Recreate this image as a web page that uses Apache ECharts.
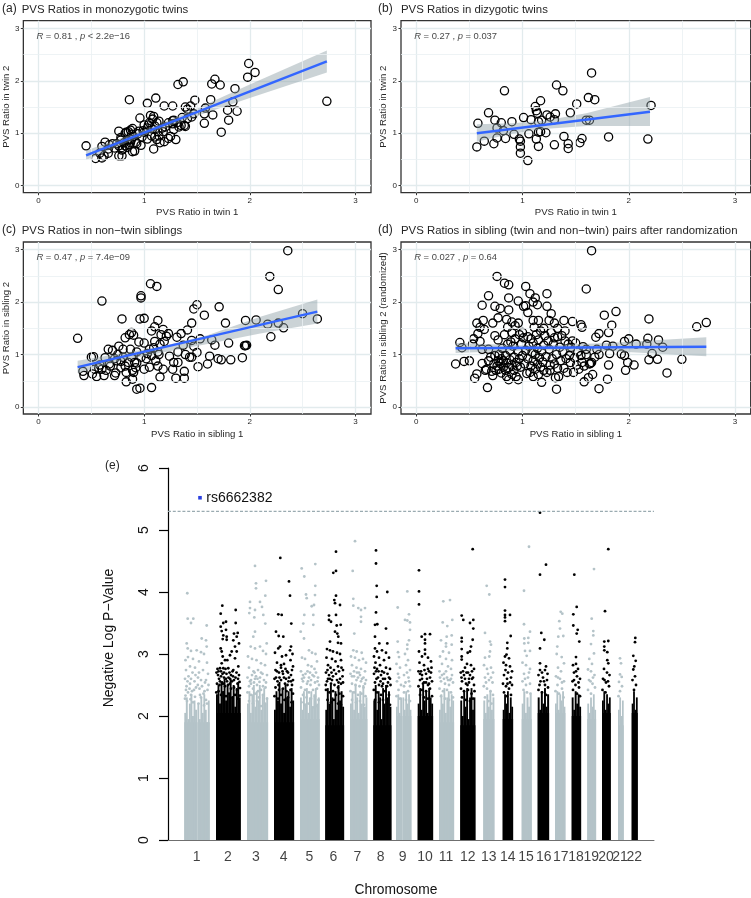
<!DOCTYPE html>
<html><head><meta charset="utf-8">
<style>html,body{margin:0;padding:0;background:#fff}#c{width:751px;height:898px}</style>
<script src="https://cdn.jsdelivr.net/npm/echarts@6/dist/echarts.min.js"></script>
</head><body><div id="c"></div>
<script>
const aPoints=[[.45,.76],[.54,.52],[.60,.53],[.58,.62],[.62,.57],[.60,.75],[.63,.83],[.66,.62],[.67,.78],[.70,.80],[.76,.57],[.79,.57],[.76,1.04],[.78,.87],[.76,.76],[.80,.70],[.81,.82],[.83,1.02],[.85,1.03],[.87,1.06],[.89,1.09],[.84,.73],[.86,.78],[.89,.65],[.91,.66],[.92,.83],[.88,.88],[.86,1.64],[.97,.77],[.96,1.29],[1.00,1.16],[.95,1.04],[1.03,.89],[1.03,1.57],[1.06,1.34],[1.09,1.32],[1.11,1.67],[1.09,.70],[1.05,1.2],[1.08,1.08],[1.10,.93],[1.12,.88],[1.13,1.03],[1.14,1.23],[1.15,.82],[1.18,1.03],[1.19,.84],[1.19,1.52],[1.23,.90],[1.25,.94],[1.27,1.24],[1.28,1.25],[1.28,1.07],[1.27,1.52],[1.30,.88],[1.32,1.93],[1.37,1.98],[1.35,1.15],[1.38,1.15],[1.39,1.13],[1.39,1.50],[1.41,1.46],[1.44,1.52],[1.45,1.31],[1.47,1.37],[1.48,1.63],[1.57,1.19],[1.57,1.37],[1.58,1.48],[1.63,1.64],[1.64,1.94],[1.65,1.35],[1.67,2.03],[1.72,1.92],[1.73,1.02],[1.79,1.44],[1.80,1.25],[1.84,1.60],[1.86,1.85],[1.88,1.42],[1.98,2.07],[1.99,2.33],[2.05,2.16],[2.73,1.61],[.66,.7],[.72,.72],[.74,.8],[.79,.68],[.82,.76],[.84,.87],[.87,.82],[.88,.98],[.9,.94],[.93,.8],[.94,.99],[.99,1.05],[1.0,1.02],[1.03,1.1],[1.04,1.16],[1.07,.95],[1.08,1.27],[1.1,1.14],[1.12,1.2],[1.14,.95],[1.17,1.1],[1.2,1.12],[1.23,1.2],[1.27,1.18],[1.31,1.2],[1.33,1.12],[1.36,1.3],[1.41,1.28],[.98,.93],[.78,.92],[.82,1.0]];
const aLine=[[.45,.58],[2.73,2.37]];
const aBandX=[.45,.8,1.1,1.5,2,2.73],aBandLo=[.49,.79,1.04,1.33,1.67,2.16],aBandHi=[.67,.92,1.14,1.47,1.93,2.58];

const bPoints=[[.57,.74],[.58,1.19],[.64,.85],[.68,1.39],[.73,.80],[.74,1.25],[.76,.91],[.76,1.10],[.80,1.20],[.82,1.05],[.83,1.81],[.84,.90],[.90,1.22],[.92,.98],[.97,.89],[.98,.62],[.98,.74],[.98,.85],[1.01,1.30],[1.05,.48],[1.06,.99],[1.08,1.26],[1.12,1.51],[1.13,.89],[1.13,1.43],[1.14,1.38],[1.15,.75],[1.15,1.22],[1.15,1.02],[1.17,1.03],[1.17,1.62],[1.18,1.25],[1.22,1.01],[1.23,1.35],[1.26,1.31],[1.30,.78],[1.30,1.26],[1.31,1.37],[1.32,1.92],[1.38,1.81],[1.39,.94],[1.43,.80],[1.43,.71],[1.45,1.39],[1.51,1.56],[1.54,.82],[1.56,.90],[1.60,1.25],[1.62,1.68],[1.63,1.25],[1.65,2.15],[1.68,1.64],[1.81,.93],[2.18,.89],[2.21,1.53]];
const bLine=[[.57,1.0],[2.2,1.41]];
const bBandX=[.57,.9,1.2,1.6,2.2],bBandLo=[.84,.99,1.08,1.14,1.14],bBandHi=[1.17,1.19,1.24,1.38,1.69];

const cPoints=[[.37,1.31],[.42,.68],[.43,.60],[.50,.95],[.52,.96],[.51,.63],[.55,.58],[.57,.75],[.60,.72],[.60,2.02],[.62,.60],[.63,.94],[.66,1.10],[.68,.78],[.70,1.08],[.72,.60],[.73,.65],[.75,1.00],[.76,1.16],[.78,.75],[.79,1.68],[.80,1.10],[.83,.48],[.83,.66],[.82,1.32],[.85,.85],[.86,1.38],[.88,1.42],[.89,.70],[.90,.66],[.89,.53],[.90,1.37],[.93,.84],[.95,1.24],[.93,.34],[.96,.36],[.96,1.68],[.97,2.12],[.97,2.08],[1.00,1.69],[1.00,.72],[1.00,1.22],[1.02,.92],[1.05,.76],[1.05,1.1],[1.06,2.35],[1.07,.37],[1.07,1.45],[1.10,1.25],[1.10,1.53],[1.12,2.30],[1.13,1.65],[1.13,.78],[1.15,.57],[1.14,1.0],[1.18,1.48],[1.19,1.25],[1.18,.72],[1.23,1.40],[1.24,.97],[1.27,.72],[1.28,.85],[1.32,1.05],[1.32,.85],[1.30,.55],[1.31,1.33],[1.35,1.40],[1.37,1.18],[1.38,.68],[1.38,.55],[1.39,1.00],[1.41,1.47],[1.43,.95],[1.45,.95],[1.45,1.60],[1.45,1.27],[1.47,1.16],[1.47,1.87],[1.50,1.95],[1.50,1.04],[1.51,.77],[1.53,1.30],[1.57,1.75],[1.60,.82],[1.62,.97],[1.64,1.28],[1.67,1.18],[1.70,.92],[1.71,1.91],[1.73,.90],[1.77,1.60],[1.80,1.22],[1.82,.90],[1.93,.94],[1.95,1.17],[1.97,1.18],[1.96,1.17],[1.96,1.65],[2.06,1.66],[2.17,1.58],[2.19,2.49],[2.20,1.34],[2.27,2.24],[2.27,1.60],[2.32,1.51],[2.36,2.98],[2.50,1.78],[2.64,1.68],[.53,.72],[.58,.8],[.64,.7],[.67,.82],[.74,.88],[.8,.95],[.82,.78],[.88,.95],[.91,.85],[.93,1.05],[.97,.95],[1.03,1.02],[1.07,.98],[1.09,1.13],[1.11,.88],[1.13,1.05],[1.15,1.2],[.87,1.1],[.92,.75],[.72,.92],[.78,.87],[1.21,1.35],[1.16,1.38]];
const cLine=[[.37,.76],[2.64,1.82]];
const cBandX=[.37,.8,1.15,1.6,2.1,2.64],cBandLo=[.65,.89,1.03,1.2,1.4,1.59],cBandHi=[.88,1.03,1.15,1.37,1.72,2.05];

const dPoints=[[1.65,2.98],[.76,2.49],[.83,2.36],[.87,2.33],[1.03,2.30],[1.60,2.25],[1.07,2.16],[.68,2.12],[1.23,2.16],[.87,2.08],[.96,2.02],[1.12,2.08],[1.10,2.0],[1.14,1.95],[.62,1.94],[.74,1.92],[.79,1.88],[.87,1.85],[1.03,1.93],[1.01,1.92],[1.05,1.80],[1.23,1.92],[1.27,1.78],[1.77,1.75],[1.88,1.82],[2.19,1.68],[2.64,1.53],[2.73,1.61],[1.84,1.56],[1.81,1.42],[1.72,1.40],[1.69,1.33],[.63,1.65],[.57,1.60],[.72,1.60],[.77,1.70],[.85,1.67],[.90,1.62],[.96,1.60],[.93,1.55],[1.10,1.65],[1.15,1.65],[1.2,1.5],[1.25,1.65],[1.30,1.60],[1.33,1.50],[1.39,1.65],[1.47,1.63],[1.55,1.57],[1.56,1.52],[1.4,1.45],[2.18,1.31],[2.28,1.28],[2.0,1.30],[1.96,1.25],[2.07,1.20],[2.17,1.20],[2.32,1.14],[1.79,1.18],[1.85,1.16],[1.93,1.01],[1.96,.98],[2.22,1.02],[1.99,.85],[2.05,.80],[1.97,.70],[2.19,.90],[2.27,.91],[2.50,.91],[2.36,.65],[1.82,1.02],[1.81,.80],[1.80,.53],[1.72,.35],[1.32,.34],[.67,.37],[1.58,.48],[1.66,.62],[1.64,.83],[1.63,.82],[1.72,1.0],[1.6,1.0],[.37,.82],[.45,.87],[.5,.88],[.41,1.23],[.43,1.13],[.53,1.2],[.54,1.3],[.55,.55],[.57,.63],[.62,.83],[.60,1.25],[.58,1.4],[.60,1.52],[.64,1.48],[.62,1.1],[.65,.7],[.68,1.1],[.72,.6],[.75,.7],[.74,1.36],[.77,1.28],
[.66,.72],[.68,.88],[.70,.95],[.71,.68],[.73,.82],[.74,.98],[.76,.78],[.77,.88],[.78,.72],[.78,1.0],[.79,.83],[.80,.65],[.80,.92],[.81,1.12],[.82,.76],[.82,.88],[.83,1.38],[.84,.7],[.84,.98],[.85,.58],[.85,.84],[.86,1.52],[.86,1.2],[.87,.52],[.87,.75],[.88,.9],[.88,1.08],[.89,1.24],[.9,.62],[.9,.8],[.9,1.42],[.91,1.16],[.92,.7],[.92,.95],[.93,1.3],[.94,.58],[.94,.85],[.95,.78],[.96,.52],[.96,1.05],[.97,.92],[.97,1.38],[.98,.76],[.99,1.2],[1.0,1.42],[1.0,.98],[1.01,1.32],[1.02,.82],[1.03,1.08],[1.04,.64],[1.05,1.34],[1.05,.92],[1.06,1.16],[1.07,.66],[1.08,.78],[1.08,1.3],[1.09,1.04],[1.1,.58],[1.1,.88],[1.1,1.22],[1.11,1.52],[1.12,.72],[1.12,1.0],[1.13,1.38],[1.14,.82],[1.14,1.12],[1.15,.62],[1.15,1.28],[1.16,.94],[1.17,.76],[1.17,1.45],[1.18,1.06],[1.18,.47],[1.19,.86],[1.2,1.18],[1.2,.7],[1.21,1.36],[1.22,.96],[1.23,.66],[1.24,1.26],[1.25,1.1],[1.26,.8],[1.26,.7],[1.27,1.42],[1.28,.92],[1.29,1.2],[1.3,.82],[1.3,1.32],[1.31,.56],[1.32,1.0],[1.33,1.34],[1.33,.74],[1.34,.58],[1.35,1.14],[1.36,.88],[1.37,1.36],[1.38,1.05],[1.39,.74],[1.4,1.26],[1.41,.92],[1.42,.66],[1.43,1.2],[1.44,.98],[1.45,.85],[1.46,1.14],[1.47,1.26],[1.48,.66],[1.49,.94],[1.5,1.22],[1.51,.8],[1.52,1.05],[1.53,.72],[1.55,.98],[1.56,.85],[1.57,1.15],[1.58,.78],[1.6,1.1],[1.62,.56],[1.65,.85],[1.68,.95],[1.7,1.1]];
const dLine=[[.37,1.12],[2.73,1.15]];
const dBandX=[.37,1.1,1.8,2.73],dBandLo=[1.03,1.08,1.07,.97],dBandHi=[1.22,1.17,1.22,1.33];

const chromLabels=['1','2','3','4','5','6','7','8','9','10','11','12','13','14','15','16','17','18','19','20','21','22'];
const chromLabelPos=[28.7,60,88,115.7,141.3,165.3,189.3,212.7,234.7,257,278,299.7,320.7,339.7,358,375.7,392.7,408,423.3,438,452,466.3];
const segStart=[16.3,29.4,48,79,106,132,157.3,182,205.3,228,234.4,249.7,271,292.3,315.3,334.7,353.7,369.7,387,403.7,419.3,434,450,463.7];
const segEnd=[28.6,41.3,72.3,99.7,125.7,151.3,175.7,199,223,233.6,243,264.7,285.7,307,326,344.7,363.3,380.7,397,412.7,427.7,442.3,455.3,469.3];
const segDark=[0,0,1,0,1,0,1,0,1,0,0,1,0,1,0,1,0,1,0,1,0,1,0,1];
const segSolid=[1.9,1.9,2.05,1.9,1.9,1.95,1.85,1.95,1.85,2.0,2.0,2.0,1.9,1.85,1.95,1.95,1.95,2.05,2.05,2.0,1.95,2.05,1.85,2.05];
const segTops=[
[2.05,2.3,1.95,2.2,2.35,2.0,2.25,2.1],[2.2,1.95,2.3,2.05,2.35,2.1,1.9,2.25],
[2.35,2.5,2.2,2.55,2.4,2.6,2.25,2.5,2.35,2.6,2.3,2.5,2.15,2.45,2.55,2.3],
[2.2,2.4,2.05,2.35,2.5,2.15,2.4,2.25,2.5,2.1,2.35,2.45,2.2,2.3],
[2.1,2.4,2.25,2.55,2.2,2.45,2.05,2.5,2.3,2.4,2.15,2.45,2.25],
[2.3,2.1,2.4,2.2,2.45,2.05,2.3,2.4,2.15,2.35,2.45,2.2,2.3],
[2.1,2.45,2.2,2.5,2.3,1.95,2.4,2.1,2.5,2.25,2.4,2.15],
[2.2,2.4,2.1,2.5,2.3,2.05,2.4,2.2,2.5,2.15,2.3],
[2.25,2.5,2.1,2.4,2.3,1.95,2.45,2.2,2.5,2.3,2.4,2.15],
[2.15,2.35,2.05,2.3],[2.3,2.1,2.4,2.2,2.35,2.1],
[2.2,2.45,2.1,2.5,2.25,2.4,2.05,2.45,2.3,2.2],
[2.1,2.35,2.2,2.45,2.05,2.3,2.4,2.15,2.35,2.25],
[2.25,2.0,2.4,2.15,2.45,1.95,2.3,2.45,2.1,2.3],
[2.25,2.05,2.35,2.15,2.4,2.1,2.3],
[2.1,2.35,2.2,2.4,2.05,2.3,2.15],
[2.2,2.4,2.05,2.3,2.15,2.35],
[2.3,2.1,2.4,2.2,2.45,2.15,2.35],
[2.2,2.4,2.1,2.35,2.25,2.4,2.15],
[2.3,2.1,2.4,2.2,2.35,2.15],
[2.2,2.05,2.3,2.15,2.35,2.1],
[2.25,2.4,2.1,2.35,2.2,2.3],
[2.1,2.3,2.0,2.25],
[2.2,2.4,2.1,2.3]];
const genomeWideLevel=5.3;
const topHit=[32,5.52];

const chr1Dots=[19.3,3.98,19.7,3.57,25.3,3.57,23,3.5,38.7,3.46,33.7,3.25,38,3.22,18.7,3.17,19.7,3.09,28.7,3.06,38.7,3.12,23,3.05,33,3.03,36,3.0,20,2.95,25,2.92,17.5,2.9,31,2.88,39,2.86,22,2.8,27,2.78,18,2.74,35,2.74,24.5,2.7,40,2.68,20.5,2.64,30,2.62,17,2.6,33,2.58,26.5,2.56,37,2.54,22,2.52,18.5,2.48,28,2.46,31.5,2.44,39.5,2.42,24,2.4,20,2.38,35.5,2.36,17.5,2.33,27,2.31,33,2.3,22.5,2.27,38,2.26,19,2.24,25,2.22,30.5,2.2,36,2.17,23,2.34,26,2.42,19.5,2.56,21.5,2.44,34,2.48,36.5,2.4,32,2.34,39,2.2,17,2.28,29.8,2.5,23,2.6,27.5,2.66,31,2.7,38,2.58,18,2.42,40.5,2.5];
const chr2Dots=[54.3,3.78,52.7,3.65,67.7,3.71,58,3.52,55.3,3.5,67.7,3.5,52.7,3.44,53.7,3.37,58,3.39,66,3.33,69.7,3.34,55.3,3.3,58.7,3.28,54.7,3.24,58.7,3.23,68.7,3.28,65.3,3.22,71,3.17,52.7,3.09,67,3.12,53.7,3.04,63.7,3.04,68.7,3.04,62,2.98,54.7,2.96,67,2.93,57,2.9,59.3,2.9,53.7,2.85,70.3,2.8,52,2.77,55.3,2.77,60.3,2.77,65.3,2.74,48.5,2.7,50,2.66,53,2.64,56,2.62,58.5,2.68,62,2.6,64,2.56,67.5,2.62,70,2.6,71.5,2.55,49,2.52,51.5,2.5,54,2.54,57,2.48,60,2.5,63,2.44,66,2.46,69,2.42,72,2.45,48.3,2.38,50.5,2.4,53,2.34,55.5,2.38,58,2.32,61,2.36,64.5,2.3,67,2.34,70,2.28,71.8,2.33,53,2.72,59,2.56,65,2.64,56,2.7,61.5,2.7,51,2.6,68.5,2.7,49.5,2.76,63,2.66,50.5,2.72,54.5,2.68,57.5,2.76,60.5,2.62,64.5,2.72,66,2.58,69.5,2.52,71,2.66,52,2.56,55,2.52,58,2.6,62,2.52];
const chr3Dots=[87,4.42,88,4.14,88,4.06,98,4.18,97.3,3.94,82,3.84,94,3.76,82,3.74,92,3.84,87,3.71,81.3,3.66,86.3,3.59,95.3,3.63,97.3,3.49,87,3.36,85.3,3.28,98.7,3.17,82.7,3.12,87,3.09,92,3.12,95,3.05,98,3.0,80,2.96,84,2.92,88.5,2.9,93,2.85,97,2.82,81,2.78,85.5,2.72,90,2.74,94.5,2.68,99,2.66,79.5,2.62,83,2.58,87,2.6,91.5,2.55,96,2.58,81,2.48,85,2.44,89,2.5,93,2.42,97.5,2.46,79.5,2.38,83,2.34,87,2.36,91,2.3,95,2.34,99,2.28,81,2.24,85,2.2,89,2.24,93,2.16,97,2.2,83,2.52,88,2.64,92,2.62,86,2.54,95,2.48,90,2.4,84,2.66,89.5,2.6,82,2.56,98,2.54,93,2.7,86.5,2.7];
const chr4Dots=[112.3,4.55,121,4.17,122,3.94,110.3,3.64,113.7,3.63,123.3,3.49,108,3.36,110.7,3.29,115.3,3.28,110.3,3.09,123,3.12,122,3.06,112,3.12,124.5,3.0,107,3.02,114,2.96,118,2.98,122.5,2.9,109,2.86,113,2.82,116,2.84,125,2.8,107.5,2.74,111,2.7,115,2.68,119,2.72,123,2.66,106.5,2.6,109.5,2.56,113,2.58,117,2.52,120.5,2.56,124,2.5,107.5,2.46,111,2.42,115,2.44,118.5,2.4,122.5,2.42,125,2.36,106.5,2.32,110,2.28,113,2.34,116.5,2.26,120,2.3,123.5,2.22,108,2.62,111.5,2.62,121,2.62,114.5,2.72,118,2.6,125,2.58,109,2.72,113,2.78,117.5,2.76,120,2.7,124,2.74,110.5,2.5,116,2.62,119.5,2.5,123,2.56];
const chr5Dots=[133.7,4.38,147.3,4.45,136.3,4.25,147.3,4.1,138,3.96,138.7,3.9,147,3.95,143.7,3.77,146,3.79,136.3,3.63,145.3,3.63,135.3,3.49,145.3,3.47,132.7,3.36,136,3.25,141,3.06,144,3.02,147.5,3.0,134,2.94,137,2.92,149,2.88,140,2.82,143.5,2.8,146.5,2.76,133,2.72,137.5,2.68,141,2.62,144.5,2.66,150,2.62,135,2.56,139,2.52,142.5,2.5,147,2.54,133,2.46,137,2.42,141,2.38,145,2.42,149,2.44,135,2.34,138.5,2.3,143,2.28,147,2.32,150.5,2.26,133.5,2.22,137,2.18,140.5,2.2,145,2.14,149,2.16,136,2.62,139.5,2.72,148,2.7,134,2.6,151,2.5,143,2.58,135,2.66,142,2.7,146,2.64,140,2.56,149.5,2.56];
const chr6Dots=[168,4.65,168,4.34,165.3,4.31,168,3.94,166.3,3.87,167,3.82,172,3.79,161,3.62,168,3.63,161,3.55,163,3.52,168.7,3.46,167,3.36,169.3,3.33,172.7,3.47,170.3,3.28,162,3.2,170,3.18,173,3.17,159,3.08,162,3.06,165,3.04,169,3.02,172,3.0,158.5,2.94,164,2.92,167.5,2.88,173,2.9,160,2.82,162.5,2.78,170,2.8,175,2.74,158,2.7,161,2.66,165,2.64,168,2.68,172,2.6,174.5,2.64,159,2.56,163,2.52,166.5,2.5,170,2.46,173,2.52,158,2.42,161.5,2.38,165,2.4,168,2.34,171.5,2.36,175,2.32,159.5,2.26,163,2.22,166,2.26,170,2.2,173,2.18,160,2.6,169,2.58,175,2.54,163.5,2.7,157.8,2.5,159.5,2.74,166,2.74,171,2.72,173.5,2.78,162,2.6,164,2.58,170.5,2.54];
const chr7Dots=[187,4.82,184.7,4.34,185.3,3.89,185.3,3.78,190.3,3.74,193,3.71,197,3.74,193,3.6,193,3.52,186.3,3.33,185.3,3.06,188.7,3.04,193.7,3.02,183,2.96,187,2.94,191,2.9,195,2.92,198,2.86,184,2.82,188.5,2.78,193,2.76,197,2.72,182.5,2.68,186,2.64,190,2.62,194,2.6,198,2.58,184,2.52,187.5,2.5,191.5,2.48,195.5,2.46,182.5,2.4,186,2.38,190,2.34,193.5,2.36,197.5,2.32,184,2.26,188,2.22,192,2.24,196,2.18,186,2.72,191,2.7,195.5,2.62,188.5,2.58,197,2.52,184,2.64,189,2.7,193,2.56,192,2.66];
const chr8Dots=[208,4.67,208,4.46,208.7,4.1,219.3,4.0,208.7,3.92,208,3.67,207,3.47,209.3,3.48,218,3.41,207,3.28,211.3,3.17,219.3,3.17,207,3.09,209,3.04,214,3.06,218,3.02,206,2.96,211,2.94,216,2.9,221,2.94,207.5,2.86,212,2.82,209,2.76,214,2.72,218,2.78,222,2.76,206,2.68,210,2.62,213,2.66,217,2.6,221,2.62,207,2.54,211,2.5,215,2.52,219,2.48,222.5,2.5,205.8,2.42,209,2.38,213,2.34,217,2.4,221,2.34,207,2.26,211,2.22,215,2.26,219,2.2,222,2.18,208,2.72,212.5,2.56,216,2.7,220,2.54,210.5,2.72,215,2.6,219.5,2.68,208.5,2.6,214,2.48,222,2.6,206.5,2.78];
const chr9Dots=[229.7,3.75,239.3,4.01,241,3.64,237,3.55,239.3,3.54,242,3.51,242,3.39,229.7,3.2,241,3.22,239.3,3.15,239.3,3.08,230,3.03,237,3.0,231,2.95,240,2.9,228.5,2.84,232,2.78,238,2.82,242,2.74,230,2.68,236,2.66,240.5,2.62,229,2.56,233,2.5,237.5,2.54,242,2.48,230.5,2.42,236,2.38,240,2.4,228.5,2.32,232,2.28,238,2.26,242,2.24,231,2.62,239,2.7,241,2.56,236,2.48];
const chr10Dots=[251,4.35,251,4.01,251,3.8,257,3.32,262,3.32,253.7,3.28,257,3.23,257,3.17,257,3.07,251,3.04,257,3.0,254,2.96,260,2.94,263,2.88,251.5,2.86,256,2.82,260,2.76,263.5,2.78,250.5,2.72,254,2.66,258,2.68,262,2.62,252,2.58,256,2.54,260,2.5,264,2.56,250.5,2.48,254,2.42,258,2.4,262,2.44,252,2.34,256,2.3,260,2.28,264,2.32,253,2.72,259,2.6,261,2.72,255,2.52,252,2.68,256.5,2.74,263,2.7,258,2.54,261,2.52,254,2.6];
const chr11Dots=[275.3,3.85,282,3.87,274.7,3.51,284.3,3.55,279.3,3.45,283.7,3.3,278.7,3.28,273,3.22,278,3.17,278,3.12,283.7,3.15,275,3.04,281,3.02,272,2.96,278,2.92,284,2.9,274,2.84,280,2.8,283,2.76,271.5,2.72,276,2.68,279,2.62,284,2.66,273,2.56,277,2.52,281,2.5,285,2.54,271.5,2.44,275,2.4,279,2.42,283,2.38,273,2.32,277,2.28,281,2.26,285,2.3,276,2.6,282,2.58,274,2.66,278,2.72,283,2.6,280,2.58,272,2.62];
const chr12Dots=[304.7,4.69,293.7,3.62,295.3,3.55,305.3,3.55,302,3.5,305.3,3.41,293.7,3.26,293.7,3.2,304.7,3.23,303,3.12,293.7,3.08,293.7,2.96,302,3.04,299.7,3.02,293.7,2.91,297,2.78,303,2.82,306,2.76,292.8,2.7,296,2.66,300,2.7,304,2.6,294,2.56,298,2.52,301,2.54,306,2.5,293,2.44,296,2.4,300,2.42,303.5,2.36,306.5,2.4,294,2.3,298,2.26,302,2.24,305,2.28,297,2.6,302,2.66,299,2.84,295,2.72,304,2.72,298.5,2.7,301,2.6,305,2.62,293.5,2.62,299.5,2.5];
const chr13Dots=[318.7,4.1,321.3,3.96,317,3.34,322,3.2,323,3.15,317,2.94,322,3.04,321.3,2.96,316,2.82,319,2.76,323,2.78,325,2.7,317,2.62,321,2.58,324.5,2.54,315.8,2.48,319,2.44,322.5,2.4,325,2.34,317,2.3,320.5,2.24,323.5,2.2,318,2.54,323,2.62,320,2.68];
const chr14Dots=[337,4.2,337,4.08,337,3.7,337,3.63,337,3.59,342,3.63,337,3.53,342.7,3.29,339.3,3.18,339.3,3.09,338.5,2.99,337,2.96,341,2.93,335.5,2.86,338,2.82,342,2.8,344,2.72,336,2.66,339,2.6,343,2.62,335,2.52,338,2.48,341,2.44,344,2.5,336,2.38,339,2.32,343,2.34,340,2.7,337.5,2.74,342,2.54,339.5,2.52];
const chr15Dots=[361,4.73,356,4.02,356,3.48,362,3.36,356.3,3.25,360.3,3.26,356.3,3.17,360.3,3.18,357,3.05,362,3.05,358.7,2.97,354.5,2.86,358,2.82,362,2.76,356,2.68,360,2.62,354.5,2.56,358,2.5,362,2.52,355.5,2.42,359,2.38,362.5,2.36,357,2.6,361,2.7];
const chr16Dots=[372,5.28,378,4.44,372,4.28,373.3,3.34,376.3,3.23,372,3.09,372,2.85,378,2.8,377,2.74,372,2.74,370.5,2.66,375,2.62,379.5,2.68,372.5,2.56,377,2.5,380,2.46,370.5,2.42,374,2.38,378,2.34,374,2.7,376,2.56,379,2.58,371.5,2.5];
const chr17Dots=[392.7,3.68,394.3,3.65,391.3,3.53,392,3.41,390.3,3.28,395.3,3.29,389.3,3.12,393.7,2.95,388.7,3.0,396,2.85,390,2.78,393,2.72,388,2.64,392,2.6,396,2.56,389.5,2.5,394,2.44,387.5,2.4,391,2.36,395.5,2.3,390,2.62,394,2.54];
const chr18Dots=[406.3,4.28,408.7,3.76,405.3,3.64,405.3,3.46,409.7,3.39,408.7,3.33,411.3,3.2,408,2.95,405,2.82,408,2.84,410,2.76,406,2.7,409,2.64,412,2.6,404.5,2.56,407.5,2.5,411,2.46,405,2.42,409,2.36,412,2.32,406,2.58,410.5,2.54,408,2.72];
const chr19Dots=[426,4.37,423.7,3.57,425.3,3.37,425.3,3.3,423,3.16,426,3.01,421.3,2.92,424,2.84,420,2.75,423,2.72,426.5,2.66,421,2.58,424.5,2.52,427,2.46,420,2.42,423,2.36,422.5,2.56,425,2.62];
const chr20Dots=[440.3,4.69,437,3.69,436.3,3.2,440.3,3.21,436.3,3.12,436.3,3.06,439.3,3.03,439.3,2.9,440.3,2.85,436,2.76,439,2.7,441.5,2.66,435,2.6,438,2.54,441,2.48,434.5,2.42,437.5,2.38,436.5,2.58,440,2.56];
const chr21Dots=[452,2.93,453,2.85,452,2.67,453.7,2.63,451,2.55,454,2.48,452,2.4,450.5,2.32];
const chr22Dots=[467.3,3.26,467,3.19,465.3,2.97,467.7,2.89,466.3,2.8,465.3,2.75,467,2.64,464.5,2.58,468,2.5,466,2.42];

const greyDots=[chr1Dots,chr3Dots,chr5Dots,chr7Dots,chr9Dots,chr11Dots,chr13Dots,chr15Dots,chr17Dots,chr19Dots,chr21Dots];
const blackDots=[chr2Dots,chr4Dots,chr6Dots,chr8Dots,chr10Dots,chr12Dots,chr14Dots,chr16Dots,chr18Dots,chr20Dots,chr22Dots];

function pairs(lists){const out=[];lists.forEach(l=>{for(let i=0;i<l.length;i+=2)out.push([l[i],l[i+1]]);});return out;}
const strips=[];
segStart.forEach((s,i)=>{
 strips.push([s,segEnd[i],segSolid[i],segDark[i]]);
 const t=segTops[i],w=(segEnd[i]-s)/t.length;
 t.forEach((h,k)=>strips.push([s+k*w,s+(k+1)*w,h,segDark[i]]));
});

const GREY='#b4c3c8',DARK='#333333',TXT='#262626',SANS='"Liberation Sans",Arial,sans-serif';
const panels=[
 {tag:'(a)',title:'PVS Ratios in monozygotic twins',xn:'PVS Ratio in twin 1',yn:'PVS Ratio in twin 2',R:'0.81',op:'<',p:'2.2e\u221216',pts:aPoints,line:aLine,bx:aBandX,lo:aBandLo,hi:aBandHi,left:21.7,top:20.7,tagX:2,titleTop:4.5},
 {tag:'(b)',title:'PVS Ratios in dizygotic twins',xn:'PVS Ratio in twin 1',yn:'PVS Ratio in twin 2',R:'0.27',op:'=',p:'0.037',pts:bPoints,line:bLine,bx:bBandX,lo:bBandLo,hi:bBandHi,left:401,top:20.7,tagX:378,titleTop:4.5},
 {tag:'(c)',title:'PVS Ratios in non\u2212twin siblings',xn:'PVS Ratio in sibling 1',yn:'PVS Ratio in sibling 2',R:'0.47',op:'=',p:'7.4e\u221209',pts:cPoints,line:cLine,bx:cBandX,lo:cBandLo,hi:cBandHi,left:21.7,top:242,tagX:2,titleTop:225.5},
 {tag:'(d)',title:'PVS Ratios in sibling (twin and non\u2212twin) pairs after randomization',xn:'PVS Ratio in sibling 1',yn:'PVS Ratio in sibling 2 (randomized)',R:'0.027',op:'=',p:'0.64',pts:dPoints,line:dLine,bx:dBandX,lo:dBandLo,hi:dBandHi,left:401,top:242,tagX:378,titleTop:225.5}
];
const grid=[],xAxis=[],yAxis=[],series=[],title=[];
const minorVals=[.5,1.5,2.5];
panels.forEach((p,i)=>{
 grid.push({left:p.left,top:p.top,width:i%2?349.7:349.3,height:172,show:true,borderColor:DARK,borderWidth:1.3,backgroundColor:'#fff'});
 xAxis.push({gridIndex:i,type:'value',min:-0.144,max:3.148,name:p.xn,nameLocation:'middle',nameGap:15,
  nameTextStyle:{fontFamily:SANS,fontSize:9.6,color:TXT},
  axisLine:{show:false,onZero:false},axisTick:{show:true,length:2.5,customValues:[0,1,2,3],lineStyle:{color:DARK,width:1}},
  axisLabel:{customValues:[0,1,2,3],margin:4,fontFamily:SANS,fontSize:8,color:TXT,formatter:v=>String(v)},
  splitLine:{show:true,lineStyle:{color:'#e2ebed',width:1.3}}});
 yAxis.push({gridIndex:i,type:'value',min:-0.133,max:3.146,name:p.yn,nameLocation:'middle',nameGap:12,
  nameTextStyle:{fontFamily:SANS,fontSize:9.6,color:TXT},
  axisLine:{show:false,onZero:false},axisTick:{show:true,length:2.5,customValues:[0,1,2,3],lineStyle:{color:DARK,width:1}},
  axisLabel:{customValues:[0,1,2,3],margin:4,fontFamily:SANS,fontSize:8,color:TXT,formatter:v=>String(v)},
  splitLine:{show:true,lineStyle:{color:'#e2ebed',width:1.3}}});
 series.push({type:'scatter',name:'minor'+i,xAxisIndex:i,yAxisIndex:i,data:[],z:1,silent:true,
  markLine:{silent:true,symbol:'none',animation:false,label:{show:false},lineStyle:{color:'#eaf0f2',width:.8,type:'solid'},
   data:minorVals.map(v=>({xAxis:v})).concat(minorVals.map(v=>({yAxis:v})))}});
 series.push({type:'scatter',name:'points'+i,xAxisIndex:i,yAxisIndex:i,data:p.pts,symbol:'circle',symbolSize:8.2,z:3,
  itemStyle:{color:'rgba(0,0,0,0)',borderColor:'#000',borderWidth:1.3,opacity:1}});
 series.push({type:'custom',name:'band'+i,xAxisIndex:i,yAxisIndex:i,z:4,silent:true,data:[[p.bx[0],p.lo[0]]],
  renderItem:(params,api)=>{
   const pts=[];p.bx.forEach((x,k)=>pts.push(api.coord([x,p.hi[k]])));
   for(let k=p.bx.length-1;k>=0;k--)pts.push(api.coord([p.bx[k],p.lo[k]]));
   return {type:'polygon',shape:{points:pts},style:{fill:'rgba(140,158,165,0.45)'}};
  }});
 series.push({type:'line',name:'fit'+i,xAxisIndex:i,yAxisIndex:i,data:p.line,showSymbol:false,z:5,silent:true,lineStyle:{color:'#3366ff',width:2.4}});
 series.push({type:'scatter',name:'stat'+i,xAxisIndex:i,yAxisIndex:i,data:[[-0.02,2.85]],symbolSize:0,z:6,silent:true,
  label:{show:true,position:'right',distance:0,fontFamily:SANS,fontSize:9.4,color:'#111',
   formatter:`{i|R} = ${p.R} , {i|p} ${p.op} ${p.p}`,rich:{i:{fontStyle:'italic',fontFamily:SANS,fontSize:9.4,color:'#111'}}}});
 title.push({text:p.tag,left:p.tagX,top:p.titleTop-1.5,padding:0,textStyle:{fontFamily:SANS,fontSize:12,fontWeight:'normal',color:TXT}});
 title.push({text:p.title,left:p.left,top:p.titleTop,padding:0,textStyle:{fontFamily:SANS,fontSize:11.4,fontWeight:'normal',color:TXT}});
});

// panel (e)
grid.push({left:168,top:468,width:486,height:372,show:false});
xAxis.push({gridIndex:4,type:'value',min:0,max:486,
 axisLine:{show:true,onZero:false,lineStyle:{color:'#6f6f6f',width:1}},axisTick:{show:false},
 axisLabel:{show:false},splitLine:{show:false}});
yAxis.push({gridIndex:4,type:'value',min:0,max:6,interval:1,
 axisLine:{show:true,onZero:false,lineStyle:{color:'#000',width:1.2}},axisTick:{show:true,length:9,lineStyle:{color:'#000',width:1.2}},
 axisLabel:{rotate:90,margin:17,fontFamily:SANS,fontSize:14,color:'#111'},splitLine:{show:false}});
series.push({type:'custom',name:'blocks',xAxisIndex:4,yAxisIndex:4,z:2,silent:true,
 data:strips,encode:{x:[0,1],y:2},
 renderItem:(params,api)=>{
  const a=api.coord([api.value(0),api.value(2)]),b=api.coord([api.value(1),0]);
  return {type:'rect',shape:{x:a[0],y:a[1],width:b[0]-a[0]+.4,height:b[1]-a[1]},style:{fill:api.value(3)?'#000':GREY}};
 }});
series.push({type:'scatter',name:'chromosome labels',xAxisIndex:4,yAxisIndex:4,z:3,silent:true,symbolSize:0,
 data:chromLabelPos.map((x,i)=>[x,0,chromLabels[i]]),
 label:{show:true,position:'bottom',distance:10,fontFamily:SANS,fontSize:14,color:'#111',formatter:d=>d.value[2]}});
series.push({type:'scatter',name:'grey SNPs',xAxisIndex:4,yAxisIndex:4,z:3,symbolSize:2.8,silent:true,data:pairs(greyDots),itemStyle:{color:GREY,opacity:1}});
series.push({type:'scatter',name:'black SNPs',xAxisIndex:4,yAxisIndex:4,z:3,symbolSize:2.8,silent:true,data:pairs(blackDots),itemStyle:{color:'#000',opacity:1}});
series.push({type:'line',name:'threshold',xAxisIndex:4,yAxisIndex:4,z:4,silent:true,showSymbol:false,data:[[0,genomeWideLevel],[486,genomeWideLevel]],lineStyle:{color:'#9aabb1',width:1.2,type:[3,1.8]}});
series.push({type:'scatter',name:'top SNP',xAxisIndex:4,yAxisIndex:4,z:5,silent:true,symbol:'rect',symbolSize:3.6,data:[topHit],itemStyle:{color:'#2a3fe0',opacity:1},
 label:{show:true,position:'right',distance:4.5,formatter:'rs6662382',fontFamily:SANS,fontSize:14,color:'#111'}});
title.push({text:'(e)',left:105,top:460,padding:0,textStyle:{fontFamily:SANS,fontSize:12,fontWeight:'normal',color:TXT}});

const chart=echarts.init(document.getElementById('c'),null,{renderer:'canvas',width:751,height:898});
chart.setOption({animation:false,backgroundColor:'#fff',title,grid,xAxis,yAxis,series,
 graphic:[
  {type:'text',x:109,y:638,rotation:Math.PI/2,style:{text:'Negative Log P\u2212Value',fontFamily:SANS,fontSize:14,fill:'#111',textAlign:'center',textVerticalAlign:'middle'}},
  {type:'text',x:396,y:890,style:{text:'Chromosome',fontFamily:SANS,fontSize:13.8,fill:'#111',textAlign:'center',textVerticalAlign:'middle'}}
 ]});
</script></body></html>
